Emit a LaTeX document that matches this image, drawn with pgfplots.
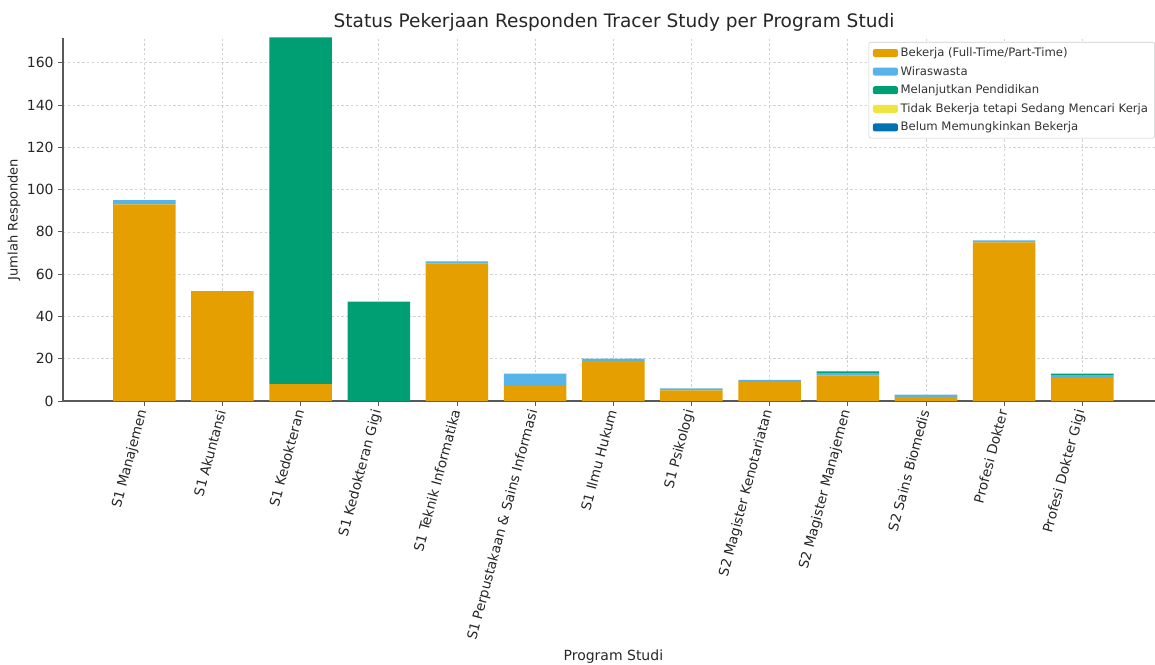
\documentclass[border=0pt]{standalone}
\usepackage{pgfplots}
\pgfplotsset{compat=1.18}
\usepackage{fontspec}
\setmainfont{DejaVu Sans}
\definecolor{cOrange}{HTML}{E69F00}
\definecolor{cSky}{HTML}{56B4E9}
\definecolor{cGreen}{HTML}{009E73}
\definecolor{cYellow}{HTML}{F0E442}
\definecolor{cBlue}{HTML}{0072B2}
\begin{document}
\begin{tikzpicture}
\begin{axis}[
  width=819pt, height=272.25pt, scale only axis,
  ybar stacked, bar width=0.8,
  xmin=-1.04, xmax=12.93, ymin=0, ymax=171.7,
  xtick={0,...,12},
  xticklabels={S1 Manajemen,S1 Akuntansi,S1 Kedokteran,S1 Kedokteran Gigi,S1 Teknik Informatika,S1 Perpustakaan \& Sains Informasi,S1 Ilmu Hukum,S1 Psikologi,S2 Magister Kenotariatan,S2 Magister Manajemen,S2 Sains Biomedis,Profesi Dokter,Profesi Dokter Gigi},
  ytick={0,20,...,160},
  xticklabel style={rotate=75, anchor=east, font=\fontsize{10.2}{12}\selectfont, color=black!85},
  yticklabel style={font=\fontsize{10.5}{12}\selectfont, color=black!85},
  /pgf/number format/assume math mode=true,
  axis x line*=bottom, axis y line*=left,
  axis line style={-, black!65, line width=0.8pt},
  tick align=outside, major tick length=3.5pt,
  tick style={black!65, line width=0.6pt},
  grid=major, grid style={dash pattern=on 1.8pt off 1.8pt, black!18, line width=0.5pt},
  title={Status Pekerjaan Responden Tracer Study per Program Studi},
  title style={font=\fontsize{13.9}{16}\selectfont, color=black!85, at={(axis description cs:0.5046,1.0)}, anchor=south, yshift=-4.5pt},
  xlabel={Program Studi}, ylabel={Jumlah Responden},
  xlabel style={font=\fontsize{10.5}{12}\selectfont, color=black!85, at={(axis description cs:0.504,-0.705)}, anchor=center},
  ylabel style={font=\fontsize{9.8}{12}\selectfont, color=black!85, at={(axis description cs:-0.0449,0.5)}, anchor=center},
  legend style={at={(1,0.989)}, anchor=north east, font=\fontsize{8.75}{10}\selectfont, draw=black!20, rounded corners=1.5pt, text=black!80, row sep=1.8pt, inner xsep=3pt, inner ysep=2pt},
  legend cell align=left,
  legend image code/.code={\fill[#1] (0pt,-3pt) rectangle (18.75pt,3pt);},
]
\addplot[fill=cOrange, draw=none] coordinates {(0,93)(1,52)(2,8)(3,0)(4,65)(5,7)(6,19)(7,5)(8,9)(9,12)(10,2)(11,75)(12,11)};
\addplot[fill=cSky, draw=none] coordinates {(0,2)(1,0)(2,0)(3,0)(4,1)(5,6)(6,1)(7,1)(8,1)(9,1)(10,1)(11,1)(12,1)};
\addplot[fill=cGreen, draw=none] coordinates {(0,0)(1,0)(2,164)(3,47)(4,0)(5,0)(6,0)(7,0)(8,0)(9,1)(10,0)(11,0)(12,1)};
\addplot[fill=cYellow, draw=none] coordinates {(0,0)(1,0)(2,0)(3,0)(4,0)(5,0)(6,0)(7,0)(8,0)(9,0)(10,0)(11,0)(12,0)};
\addplot[fill=cBlue, draw=none] coordinates {(0,0)(1,0)(2,0)(3,0)(4,0)(5,0)(6,0)(7,0)(8,0)(9,0)(10,0)(11,0)(12,0)};
\legend{Bekerja (Full-Time/Part-Time),Wiraswasta,Melanjutkan Pendidikan,Tidak Bekerja tetapi Sedang Mencari Kerja,Belum Memungkinkan Bekerja}
\end{axis}
\pgfresetboundingbox
\path[use as bounding box] ([shift={(-47.25pt,-197.25pt)}]current axis.south west) rectangle ([shift={(0pt,28.5pt)}]current axis.north east);
\end{tikzpicture}
\end{document}
